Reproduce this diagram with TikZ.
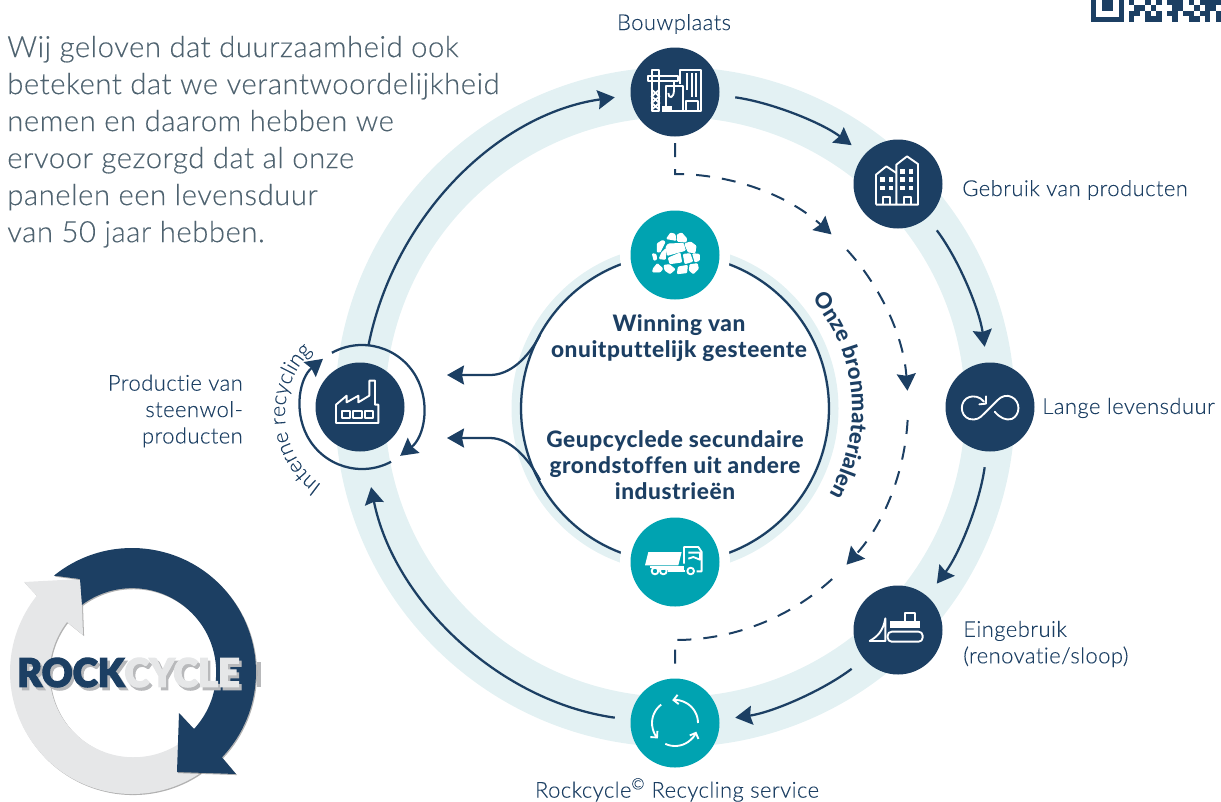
\documentclass[tikz,border=0pt]{standalone}
\usepackage{fontspec}
\usepackage{graphicx}
\setmainfont{Lato}
\newfontfamily\lightfont{Lato Light}[LetterSpace=2,Ligatures=NoCommon,FakeBold=.15]
\newfontfamily\parfont{Lato Light}[LetterSpace=1.7,Ligatures=NoCommon,FakeBold=.15]
\newfontfamily\labfont{Lato Heavy}[LetterSpace=2.5,Ligatures=NoCommon]
\newfontfamily\heavyfont{Lato Black}[FakeBold=3]
\usetikzlibrary{arrows.meta,decorations.text,shadows}
\definecolor{navy}{HTML}{1C3F63}
\definecolor{teal}{HTML}{00A3B1}
\definecolor{ringband}{HTML}{E3F1F3}
\definecolor{parcolor}{HTML}{4F6370}
\definecolor{logogrey}{HTML}{E6E7E8}
\definecolor{logoshade}{HTML}{B8B9BB}
\tikzset{
  navynode/.style={circle,fill=navy,minimum size=66.75pt,inner sep=0pt,outer sep=0pt},
  tealnode/.style={navynode,fill=teal},
  halo/.style={circle,fill=white,minimum size=82.5pt,inner sep=0pt,outer sep=0pt},
  looptarget/.style={circle,minimum size=93pt,inner sep=0pt,outer sep=0pt},
  flow/.style={draw=navy,line width=1.7pt,-{Stealth[length=12.75pt,width=14.25pt,inset=1.5pt]},shorten <=12pt,shorten >=12pt},
  loopflow/.style={draw=navy,line width=1.7pt,-{Stealth[length=12.75pt,width=14.25pt,inset=1.5pt]}},
  dashflow/.style={loopflow,line width=1.5pt,dash pattern=on 10.5pt off 9pt},
  dashplain/.style={draw=navy,line width=1.5pt,dash pattern=on 10.5pt off 9pt},
  lab/.style={text=navy,font=\lightfont\fontsize{16.5}{19.8}\selectfont,inner sep=0pt},
  boldlab/.style={text=navy,font=\labfont\fontsize{17}{19.5}\selectfont,inner sep=0pt,align=center},
  icon/.style={x=.25pt,y=-.25pt},
  icoline/.style={draw=white,line width=1.4pt,line join=round},
  icofill/.style={fill=white,draw=white,line width=.7pt,rounded corners=.6pt},
}
\def\logoword#1#2{\resizebox{167pt}{21.75pt}{\heavyfont\textcolor{#1}{ROCK}\textcolor{#2}{CYCLE}}}
\begin{document}
\begin{tikzpicture}[x=.75pt,y=.75pt]
  \useasboundingbox (0,0) rectangle (1221,-801);
  \coordinate (hub) at (675,-407);
  \coordinate (hubin) at (675,-408.5);
  % anneaux
  \draw[ringband,line width=37.5pt] (hub) circle[radius=315];
  \draw[ringband,line width=8.25pt] (hubin) circle[radius=158];
  \draw[navy,line width=1.7pt] (hubin) circle[radius=154];
  \node[halo] (winninghalo) at (675,-255) {};
  \node[halo] (truckhalo) at (675,-562) {};

  \node[navynode] (bouwplaats) at (675,-92) {};
  \node[navynode] (gebruik) at (898,-184) {};
  \node[navynode] (levensduur) at (990,-407) {};
  \node[navynode] (eingebruik) at (898,-630) {};
  \node[tealnode] (rockcycle) at (675,-723) {};
  \node[navynode] (productie) at (360,-407) {};
  \node[looptarget] (internloop) at (362,-407) {};
  \node[tealnode] (winning) at (675,-255) {};
  \node[tealnode] (truck) at (675,-562) {};

  % grote cirkel
  \draw[flow] (bouwplaats.-4) to[out=-8,in=143,looseness=.865] (gebruik.139);
  \draw[flow] (gebruik.-49) to[out=-53,in=98,looseness=.865] (levensduur.94);
  \draw[flow] (levensduur.-94) to[out=-98,in=53,looseness=.865] (eingebruik.49);
  \draw[flow] (eingebruik.-139) to[out=-143,in=8,looseness=.865] (rockcycle.4);
  \draw[flow,shorten >=14pt] (rockcycle.176) to[out=172,in=281.3,looseness=.938] (internloop.275.65);
  \draw[flow,shorten <=0pt] (internloop.84.35) to[out=78.7,in=188,looseness=.938] (bouwplaats.184);

  % interne recycling
  \path (internloop) ++(119:62) coordinate (loopA);
  \path (internloop) ++(-62:62) coordinate (loopB);
  \draw[loopflow] (loopA) arc[start angle=119,end angle=-52,radius=62];
  \draw[loopflow] (loopB) arc[start angle=-62,end angle=-231,radius=62];
  \path[decorate,decoration={text along path,text align=center,
    text={|\lightfont\fontsize{16}{16}\selectfont\color{navy}|Interne recycling}}]
    (372,-414) ++(244:87) arc[start angle=244,end angle=124,radius=87];

  % gesteente takken
  \coordinate (tipA) at (447,-375);
  \coordinate (tipB) at (447,-438);
  \coordinate (branchA) at (540,-335);
  \coordinate (branchB) at (540,-480);
  \draw[loopflow] (branchA) .. controls (528,-358) and (510,-375) .. (490,-375) -- (tipA);
  \draw[loopflow] (branchB) .. controls (528,-458) and (510,-438) .. (490,-438) -- (tipB);

  % stippellijn
  \coordinate (dashA) at (675,-174);
  \path (hub) ++(42.4:233) coordinate (dashB);
  \path (hub) ++(-3.2:233) coordinate (dashC);
  \path (hub) ++(-47.6:233) coordinate (dashD);
  \draw[dashflow,shorten <=5pt] (bouwplaats.south) -- (dashA) arc[start angle=90,end angle=47.8,radius=233];
  \draw[dashflow] (dashB) arc[start angle=42.4,end angle=4,radius=233];
  \draw[dashflow] (dashC) arc[start angle=-3.2,end angle=-42.6,radius=233];
  \draw[dashplain,shorten >=7pt] (dashD) arc[start angle=-47.6,end angle=-90,radius=233] -- (rockcycle.north);
  \path[decorate,decoration={text along path,text align=center,
    text={|\labfont\fontsize{16.5}{16.5}\selectfont\color{navy}|Onze bronmaterialen}}]
    (680,-409) ++(51:172) arc[start angle=51,end angle=-41,radius=172];

  % teksten
  \node[anchor=north west,align=left,inner sep=0pt,text=parcolor,font=\parfont\fontsize{22}{27.75}\selectfont] (intro) at (7,-35.5)
    {Wij geloven dat duurzaamheid ook\\betekent dat we verantwoordelijkheid\\nemen en daarom hebben we\\ervoor gezorgd dat al onze\\panelen een levensduur\\van 50 jaar hebben.};
  \node[lab] (bouwlabel) at (674,-24) {Bouwplaats};
  \node[lab,anchor=west] (gebruiklabel) at (962,-190) {Gebruik van producten};
  \node[lab,anchor=west] (levenslabel) at (1042,-408) {Lange levensduur};
  \node[lab,anchor=west,align=left] (eindlabel) at (963,-644) {Eingebruik\\(renovatie/sloop)};
  \node[lab] (rocklabel) at (677,-790) {Rockcycle\textsuperscript{©} Recycling service};
  \node[lab,anchor=east,align=right] (productielabel) at (243,-411) {Productie van\\steenwol-\\producten};
  \node[boldlab] (winninglabel) at (679,-338) {Winning van\\onuitputtelijk gesteente};
  \node[boldlab] (grondstoflabel) at (675,-465) {Geupcyclede secundaire\\grondstoffen uit andere\\industrieën};

  % iconen
  \begin{scope}[shift={(bouwplaats)},icon,shift={(-225,-157)}]
    \draw[icoline] (155,215) -- (155,92) -- (178,92) -- (178,215) -- cycle;
    \draw[icoline] (143,108) rectangle (235,125);
    \draw[icoline] (155,150) -- (178,170) -- (155,190) -- (178,210);
    \draw[icoline] (178,150) -- (155,170) -- (178,190) -- (155,210);
    \draw[icoline] (222,125) -- (222,150) .. controls (222,178) and (205,178) .. (205,160);
    \draw[icoline] (198,198) -- (198,140) -- (250,140) -- (250,215) -- (216,215);
    \fill[white] (186,198) rectangle (216,217);
    \draw[icoline] (240,132) -- (240,90) -- (302,90) -- (302,215) -- (250,215);
    \draw[icoline] (262,100) -- (262,150) (275,100) -- (275,172) (288,100) -- (288,172);
    \draw[icoline] (258,215) -- (258,185) -- (295,185) -- (295,215);
  \end{scope}
  \begin{scope}[shift={(gebruik)},icon,shift={(-893,-433)}]
    \draw[icoline] (827,495) -- (827,405) -- (858,380) -- (888,400);
    \draw[icoline] (888,495) -- (888,375) -- (920,350) -- (953,373) -- (953,495) -- (827,495);
    \foreach \wx/\wy in {840/412,865/412,840/438,865/438,900/388,925/388,900/413,925/413,900/438,925/438}
      \fill[white] (\wx,\wy) rectangle ++(14,14);
    \draw[icoline] (848,495) -- (848,472) -- (868,472) -- (868,495);
    \draw[icoline] (912,495) -- (912,472) -- (932,472) -- (932,495);
  \end{scope}
  \begin{scope}[shift={(levensduur)},icon,shift={(-210,-202)}]
    \draw[icoline,line cap=round] (192,186) .. controls (180,170) and (160,168) .. (148,172)
      .. controls (118,182) and (118,228) .. (148,238) .. controls (168,243) and (180,235) .. (190,224)
      -- (232,182) .. controls (245,168) and (262,165) .. (275,172)
      .. controls (302,185) and (302,226) .. (275,238) .. controls (258,243) and (240,235) .. (224,216);
    \draw[icoline,line cap=round] (178,194) -- (198,192) -- (198,170);
  \end{scope}
  \begin{scope}[shift={(eingebruik)},icon,shift={(-893,-390)}]
    \draw[icoline,rounded corners=3pt] (862,395) rectangle (967,425);
    \fill[white] (870,362) rectangle (960,385);
    \draw[icoline] (915,362) -- (915,340) -- (945,340) -- (945,362);
    \draw[icoline] (855,355) .. controls (848,395) and (830,410) .. (808,423) -- (855,423) -- cycle;
  \end{scope}
  \begin{scope}[shift={(truck)},icon,shift={(-225,-185)}]
    \fill[white] (145,155) -- (245,155) -- (235,195) -- (135,195) -- cycle;
    \draw[icoline] (252,190) -- (252,140) -- (295,140) -- (305,155) -- (305,213) -- (290,213);
    \draw[icoline] (265,157) -- (300,157) -- (300,178) -- (280,170) -- (265,175);
    \draw[icoline] (150,200) -- (252,200) (205,213) -- (255,213) (175,205) -- (252,205);
    \foreach \wx in {165,190,272}
      \draw[icoline] (\wx,212) circle[radius=10];
  \end{scope}
  \begin{scope}[shift={(winning)},icon,shift={(-105,-99)}]
    \foreach \rock in {
      {(80,50)--(92,33)--(105,37)--(108,55)--cycle},
      {(112,38)--(125,33)--(140,50)--(138,60)--(113,58)--cycle},
      {(78,75)--(85,66)--(130,64)--(136,85)--(100,95)--(82,100)--cycle},
      {(135,65)--(152,60)--(168,72)--(165,92)--(145,90)--(138,75)--cycle},
      {(52,65)--(68,55)--(75,60)--(60,90)--(52,90)--cycle},
      {(37,95)--(48,97)--(50,112)--(42,115)--cycle},
      {(65,92)--(78,80)--(76,112)--(58,110)--cycle},
      {(85,108)--(120,93)--(125,120)--(90,125)--cycle},
      {(130,97)--(150,95)--(158,118)--(135,125)--cycle},
      {(158,95)--(178,97)--(178,115)--(165,120)--cycle},
      {(40,140)--(52,125)--(68,140)--(60,150)--(38,150)--cycle},
      {(72,130)--(88,128)--(105,142)--(90,155)--(75,145)--cycle},
      {(115,135)--(142,130)--(140,152)--(112,155)--cycle},
      {(150,128)--(172,125)--(175,140)--(160,155)--(148,145)--cycle}}
      \fill[icofill] \rock;
  \end{scope}
  \begin{scope}[shift={(productie)},icon,shift={(-300,-262)}]
    \draw[icoline] (228,255) -- (228,310) -- (355,310) -- (355,255) -- (345,255) -- (345,183) -- (328,183) -- (328,228)
      -- (295,248) -- (295,228) -- (260,248) -- (260,228) -- cycle;
    \draw[icoline] (245,273) rectangle (270,295) (280,273) rectangle (305,295) (315,273) rectangle (340,295);
  \end{scope}
  % recycling-pijlen
  \path (rockcycle) ++(0:23) coordinate (cycA);
  \path (rockcycle) ++(127:23) coordinate (cycB);
  \path (rockcycle) ++(245:23) coordinate (cycC);
  \draw[white,line width=1.4pt,-{Straight Barb[length=3.5pt,width=7pt]}] (cycA) arc[start angle=0,end angle=97,radius=23];
  \draw[white,line width=1.4pt,-{Straight Barb[length=3.5pt,width=7pt]}] (cycB) arc[start angle=127,end angle=222,radius=23];
  \draw[white,line width=1.4pt,-{Straight Barb[length=3.5pt,width=7pt]}] (cycC) arc[start angle=245,end angle=338,radius=23];

  % logo
  \coordinate (logo) at (132,-672);
  \fill[logoshade] (257,-662) rectangle (261,-687);
  \fill[logogrey,drop shadow={shadow xshift=.8pt,shadow yshift=-.8pt,fill=black,opacity=.3}] (logo) ++(-55.8:122) arc[start angle=-55.8,end angle=-218.7,radius=122]
    -- (24,-582) -- (81,-579) -- (83,-635) -- (67,-622) arc[start angle=142.4,end angle=302.4,radius=84] -- cycle;
  \fill[navy,drop shadow={shadow xshift=.8pt,shadow yshift=-.8pt,fill=black,opacity=.3}] (logo) ++(129:124) arc[start angle=129,end angle=-43.5,radius=124]
    -- (236,-774) -- (177,-772) -- (179,-713) -- (194,-729) arc[start angle=-42.6,end angle=126.7,radius=84] -- (80,-579) -- cycle;
  \node[inner sep=0pt] (logoshadow) at (131,-675.5) {\logoword{logoshade}{logoshade}};
  \node[inner sep=0pt] (logotitle) at (128.5,-672.5) {\logoword{navy}{logogrey}};
  \node[inner sep=0pt,text=navy,font=\fontsize{6}{6}\selectfont] (logomark) at (245,-662) {®};

  % QR
  \fill[navy] (1091,0) rectangle (1124,-22);
  \fill[white] (1096,0) rectangle (1119,-16.7);
  \fill[navy] (1102,0) rectangle (1113,-11);
  \foreach \qrow/\qcols in {0/{0,3,5,7,8,9,11,13,14,15,16},1/{1,2,4,8,9,12,14,15},2/{0,1,3,5,7,8,10,11,13,14,16},3/{0,3,4,5,8,11,12,14,16}}
    \foreach \qcol in \qcols
      \fill[navy] (1129+\qcol*5.43,-\qrow*5.43) rectangle ++(5.43,-5.43);
\end{tikzpicture}
\end{document}
